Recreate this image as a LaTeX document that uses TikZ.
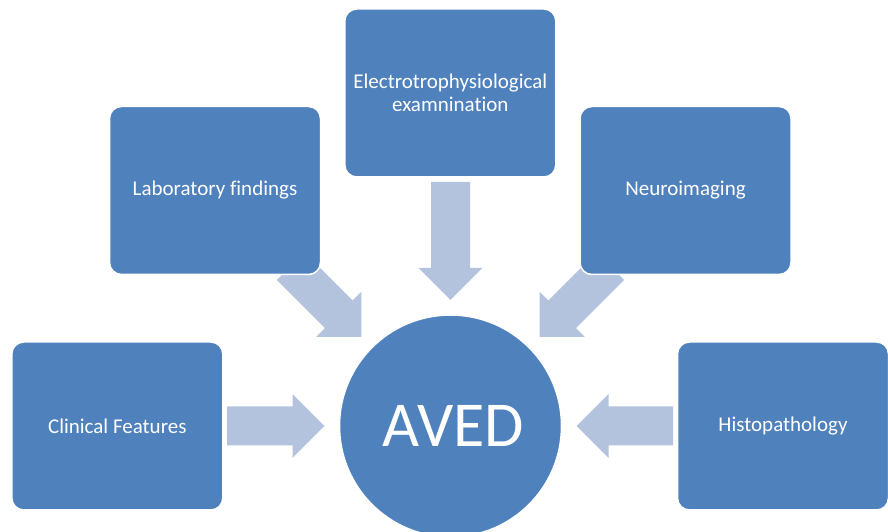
\documentclass[tikz,border=0pt]{standalone}
\usepackage{fontspec}
\setmainfont{Carlito}[Ligatures=NoCommon]
\usetikzlibrary{calc}
\definecolor{boxblue}{HTML}{4F81BD}
\definecolor{arrowblue}{RGB}{179,195,222}
\tikzset{
  x=1pt, y=1pt,
  infobox/.style={draw=white, line width=1.5pt, fill=boxblue, rounded corners=12pt,
    minimum width=211pt, minimum height=168pt, inner sep=0pt, text=white,
    align=center, font=\fontsize{21}{23}\selectfont},
  hub/.style={circle, draw=white, line width=1.5pt, fill=boxblue, minimum size=222pt,
    inner sep=0pt, text=white, font=\fontsize{64}{70}\selectfont},
  blockarrow/.style={fill=arrowblue}
}
% #1 = direction angle (outward from hub), #2 = start distance of the shaft
\newcommand{\convarrow}[2]{%
  \begin{scope}[shift={(hub.center)}, rotate=#1]
    \fill[blockarrow] (#2,19.5) -- (158,19.5) -- (158,31.8) -- (126,0)
      -- (158,-31.8) -- (158,-19.5) -- (#2,-19.5) -- cycle;
  \end{scope}}
\begin{document}
\begin{tikzpicture}
\useasboundingbox (0,0) rectangle (888,532);
\clip (0,0) rectangle (888,532);
\fill[white] (0,0) rectangle (888,532);
\node[hub] (hub) at (450.5,106) {};
% arrows first
\convarrow{180}{223.5}
\convarrow{135}{226}
\convarrow{90}{244}
\convarrow{45}{226}
\convarrow{0}{222.5}
% hub and boxes on top
\node[hub] (hubtop) at (hub.center) {\hspace*{6pt}AVED};
\node[infobox] (clin) at (117.3,106) {Clinical Features};
\node[infobox] (lab) at (215,341.5) {\raisebox{-1.5pt}{Laboratory findings}};
\node[infobox] (elec) at (450.3,439) {Electrotrophysiological\\examnination};
\node[infobox] (neuro) at (685.5,341.5) {\raisebox{-1.5pt}{Neuroimaging}};
\node[infobox] (histo) at (783,106) {Histopathology};
\end{tikzpicture}
\end{document}
